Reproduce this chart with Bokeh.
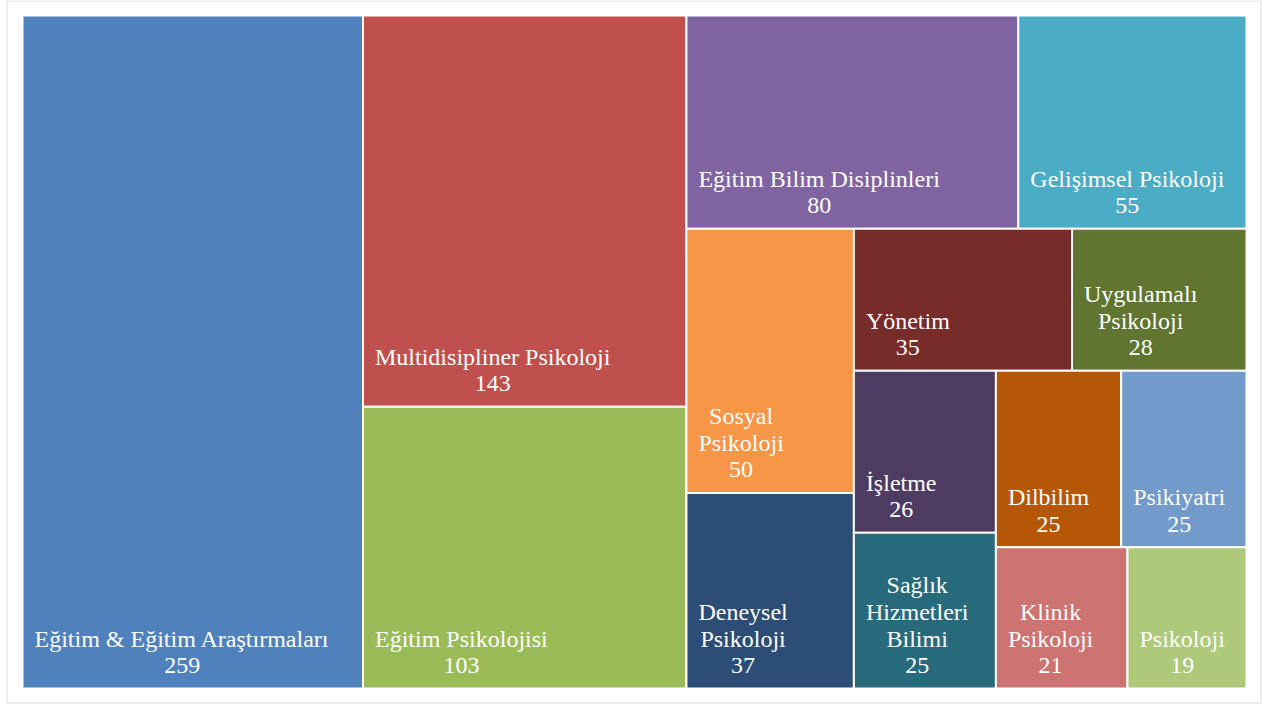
from bokeh.plotting import figure
from bokeh.models import Range1d, ColumnDataSource
from bokeh.core.properties import value
from bokeh.embed import file_html
from bokeh.resources import INLINE

# ---- data ----
categories = [
    "Eğitim & Eğitim Araştırmaları", "Multidisipliner Psikoloji", "Eğitim Psikolojisi",
    "Eğitim Bilim Disiplinleri", "Gelişimsel Psikoloji", "Sosyal Psikoloji",
    "Deneysel Psikoloji", "Yönetim", "Uygulamalı Psikoloji", "İşletme",
    "Sağlık Hizmetleri Bilimi", "Dilbilim", "Psikiyatri", "Klinik Psikoloji", "Psikoloji",
]
counts = [259, 143, 103, 80, 55, 50, 37, 35, 28, 26, 25, 25, 25, 21, 19]
palette = ["#4F81BD", "#C0504D", "#9BBB59", "#8064A2", "#4BACC6", "#F79646",
           "#2C4D75", "#772C2A", "#5F7530", "#4D3B62", "#276A7C", "#B65708",
           "#729ACA", "#CD7371", "#AFC97A"]

# ---- layout constants (pixels) ----
FIG_W, FIG_H = 1263, 705
W, H = 1224, 673          # treemap area
PAD_L, PAD_T = 22, 15     # treemap offset inside figure
PAD_R = FIG_W - PAD_L - W
PAD_B = FIG_H - PAD_T - H
BORDER = (6.5, 0.5, 1260.5, 702.5)   # outer frame in screen px: left, top, right, bottom
FONT_PX = 24
LINE_H = 27
TEXT_PAD = 12
BASE_OFF = 23

def worst(row, side):
    s = sum(row)
    return max(max(side * side * r / (s * s), (s * s) / (side * side * r)) for r in row)

def squarify(areas, x, y, w, h):
    rects = []
    vals = list(areas)
    while vals:
        short = min(w, h)
        row = [vals[0]]
        i = 1
        while i < len(vals) and worst(row + [vals[i]], short) <= worst(row, short):
            row.append(vals[i])
            i += 1
        vals = vals[i:]
        s = sum(row)
        if w >= h:
            cw = s / h
            yy = y
            for a in row:
                rh = a / cw
                rects.append((x, yy, cw, rh))
                yy += rh
            x += cw
            w -= cw
        else:
            rh = s / w
            xx = x
            for a in row:
                rw = a / rh
                rects.append((xx, y, rw, rh))
                xx += rw
            y += rh
            h -= rh
    return rects

total = sum(counts)
areas = [c * W * H / total for c in counts]
rects = squarify(areas, 0, 0, W, H)

# Times-like character widths (per 1000 em)
CW = {' ': 250, 'a': 444, 'b': 500, 'c': 444, 'd': 500, 'e': 444, 'f': 333, 'g': 500,
      'h': 500, 'i': 278, 'j': 278, 'k': 500, 'l': 278, 'm': 778, 'n': 500, 'o': 500,
      'p': 500, 'q': 500, 'r': 333, 's': 389, 't': 278, 'u': 500, 'v': 500, 'w': 722,
      'x': 500, 'y': 500, 'z': 444, 'A': 722, 'B': 667, 'C': 667, 'D': 722, 'E': 611,
      'F': 556, 'G': 722, 'H': 722, 'I': 333, 'J': 389, 'K': 722, 'L': 611, 'M': 889,
      'N': 722, 'O': 722, 'P': 556, 'Q': 722, 'R': 667, 'S': 556, 'T': 611, 'U': 722,
      'V': 722, 'W': 944, 'X': 722, 'Y': 722, 'Z': 611, '&': 778, 'ğ': 500, 'ş': 389,
      'ı': 278, 'ö': 500, 'ü': 500, 'ç': 444, 'İ': 333, 'Ş': 556, 'Ö': 722, 'Ü': 722}

def tw(s):
    return sum(CW.get(ch, 500) for ch in s) * FONT_PX / 1000.0

def wrap(label, avail):
    words = label.split()
    lines = [words[0]]
    for wd in words[1:]:
        cand = lines[-1] + " " + wd
        if tw(cand) <= avail:
            lines[-1] = cand
        else:
            lines.append(wd)
    return lines

left, right, top, bottom = [], [], [], []
tx, ty, tt = [], [], []
for (rx, ry, rw, rh), lab, c in zip(rects, categories, counts):
    l, r = rx, rx + rw
    t, b = H - ry, H - ry - rh
    left.append(l); right.append(r); top.append(t); bottom.append(b)
    lines = wrap(lab, rw - 2 * TEXT_PAD) + [str(c)]
    bw = max(tw(s) for s in lines)
    cx = l + TEXT_PAD + bw / 2
    n = len(lines)
    for i, s in enumerate(lines):
        tx.append(cx)
        ty.append(b + BASE_OFF + (n - 1 - i) * LINE_H)
        tt.append(s)

rsrc = ColumnDataSource(dict(left=left, right=right, top=top, bottom=bottom, color=palette))
tsrc = ColumnDataSource(dict(x=tx, y=ty, text=tt))

p = figure(width=FIG_W, height=FIG_H,
           x_range=Range1d(-PAD_L, W + PAD_R), y_range=Range1d(-PAD_B, H + PAD_T),
           output_backend="svg", toolbar_location=None,
           x_axis_location=None, y_axis_location=None, min_border=0)
p.xgrid.visible = False
p.ygrid.visible = False
p.outline_line_color = None
p.background_fill_color = "white"
p.border_fill_color = "white"

# outer chart frame (screen px -> data units, 1:1 scale)
bl, bt, br, bb = BORDER
p.quad(left=[bl - PAD_L], right=[br - PAD_L], top=[H + PAD_T - bt], bottom=[H + PAD_T - bb],
       fill_color=None, line_color="#D9D9D9", line_width=1)

p.quad(left="left", right="right", top="top", bottom="bottom", fill_color="color",
       line_color="white", line_width=2, source=rsrc)
p.text(x="x", y="y", text="text", source=tsrc, text_align="center",
       text_baseline="alphabetic", text_color="white",
       text_font=value("Liberation Serif"), text_font_size=f"{FONT_PX}px")

open("out.html", "w").write(file_html(p, INLINE))
